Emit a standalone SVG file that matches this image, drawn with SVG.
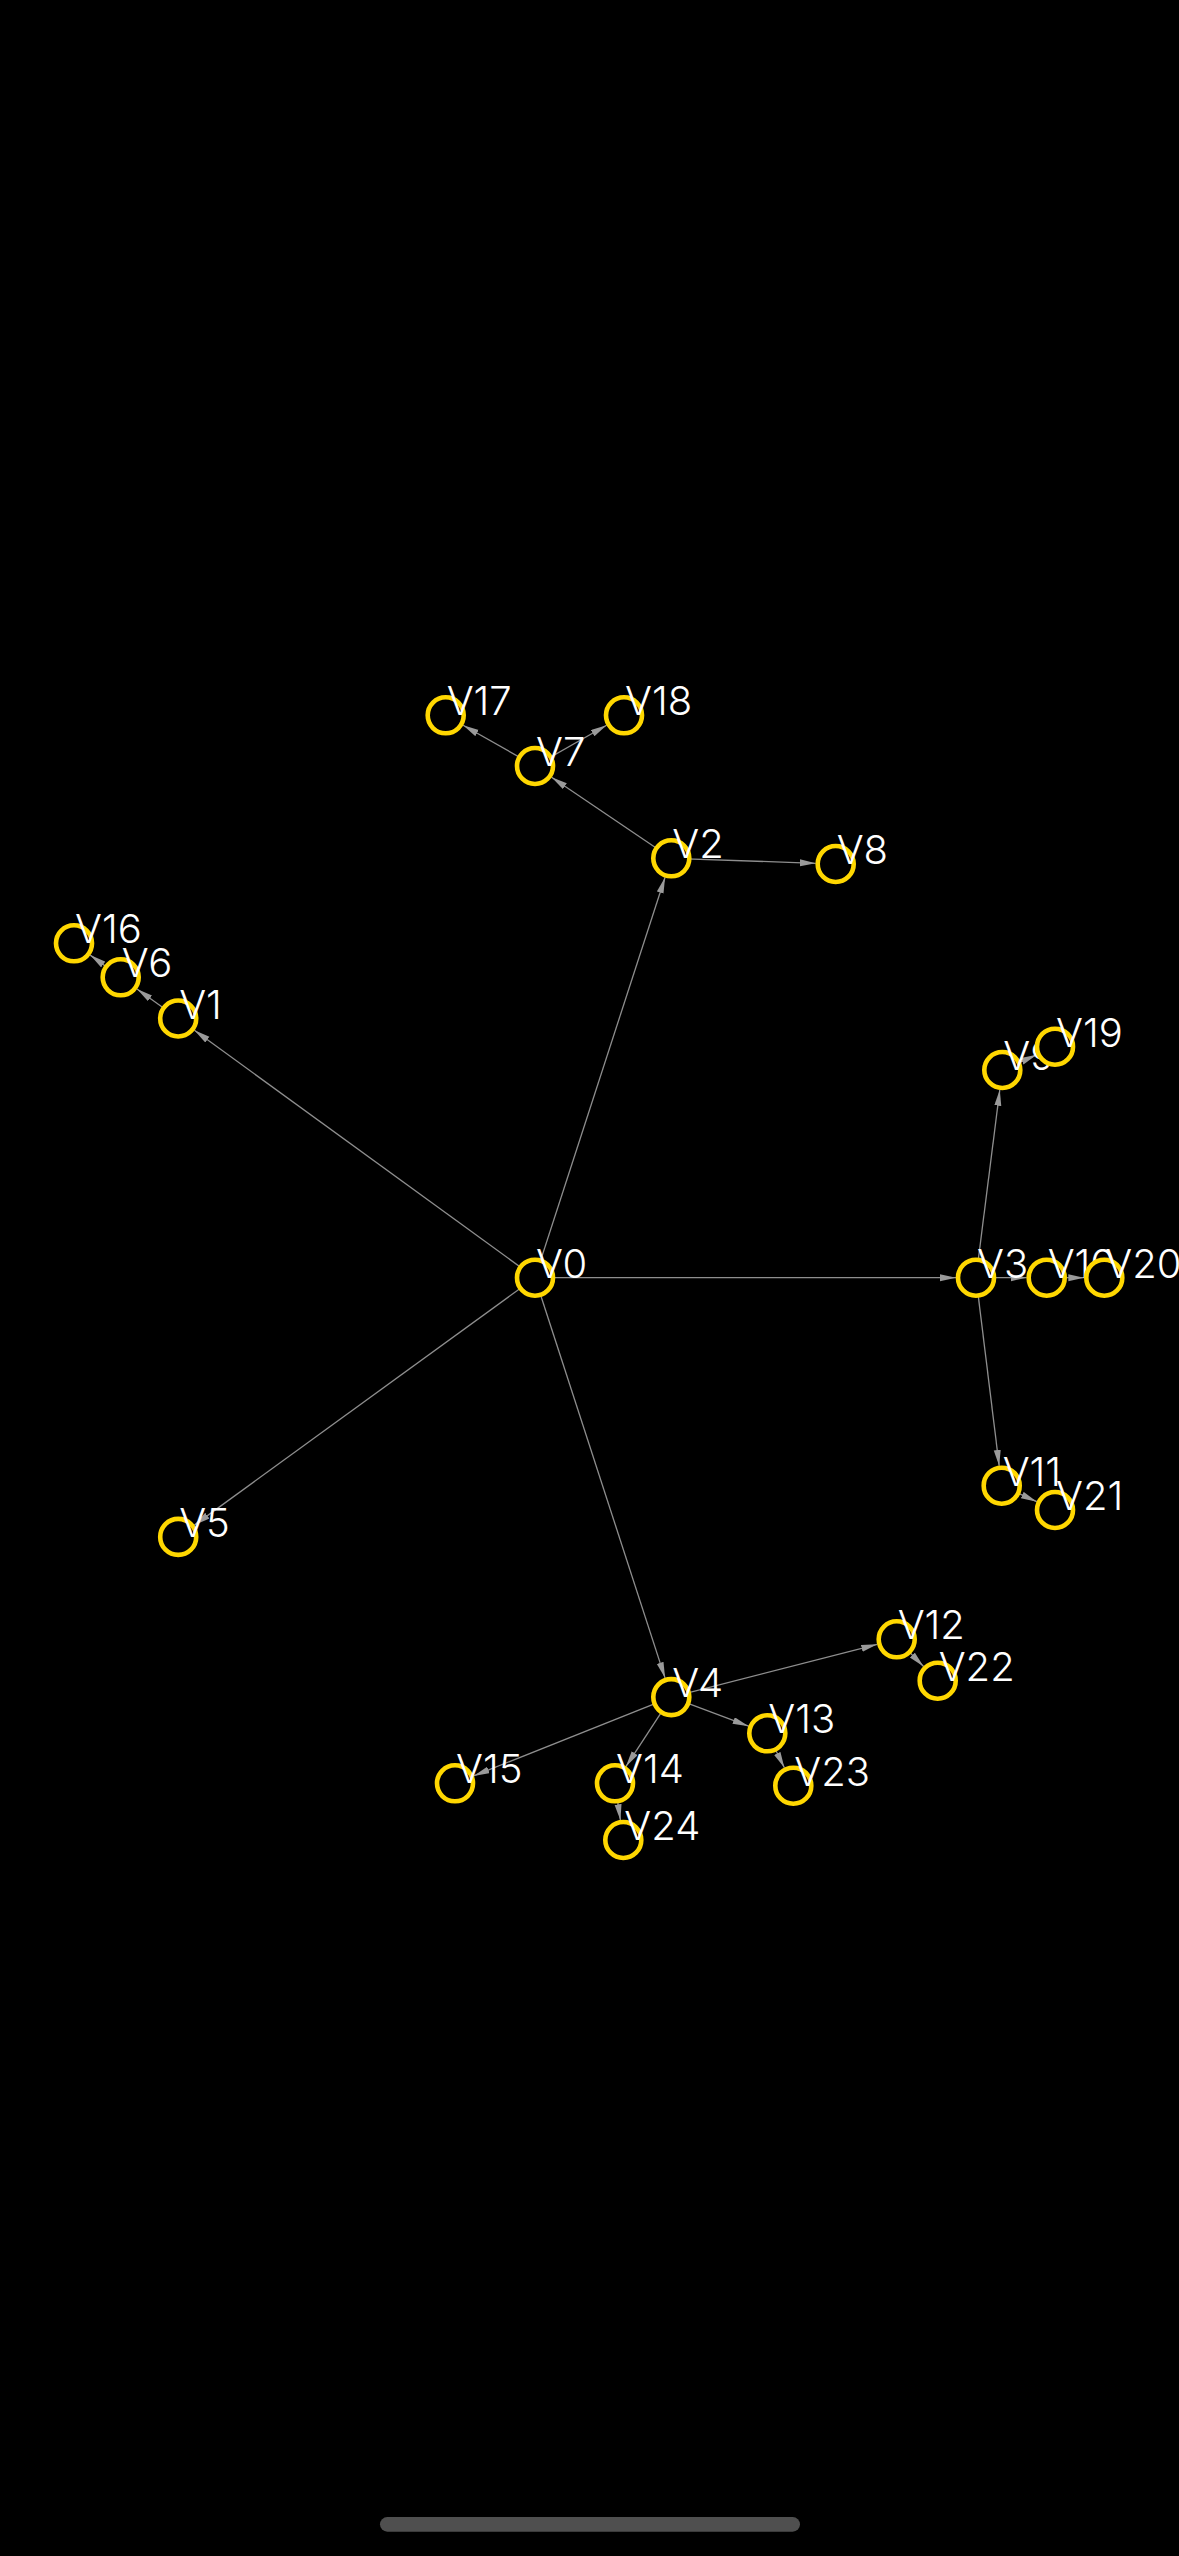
<svg xmlns="http://www.w3.org/2000/svg" width="1179" height="2556" viewBox="0 0 1179 2556">
<defs>
<marker id="arr" markerUnits="userSpaceOnUse" markerWidth="16" markerHeight="8" refX="16" refY="3.5" orient="auto">
<path d="M0,0 L16,3.5 L0,7 z" fill="#9a9a9a"/>
</marker>
<style>
.e{stroke:#8e8e8e;stroke-width:1.3;fill:none;marker-end:url(#arr)}
.n circle{fill:#000;stroke:#FFD700;stroke-width:4.6}
.n text{fill:#fff;font-family:Inter,"Noto Sans","Liberation Sans",sans-serif;font-size:40px;font-weight:300}
</style>
</defs>
<rect width="1179" height="2556" fill="#000"/>
<g id="connectors">
<line class="e" x1="535" y1="1277.7" x2="194.4" y2="1030.3"/>
<line class="e" x1="535" y1="1277.7" x2="665.1" y2="877.3"/>
<line class="e" x1="535" y1="1277.7" x2="956" y2="1277.7"/>
<line class="e" x1="535" y1="1277.7" x2="665.1" y2="1678.1"/>
<line class="e" x1="535" y1="1277.7" x2="194.4" y2="1525.1"/>
<line class="e" x1="178.2" y1="1018.5" x2="137" y2="989"/>
<line class="e" x1="120.7" y1="977.3" x2="90.2" y2="955.1"/>
<line class="e" x1="671.3" y1="858.3" x2="551.6" y2="777.2"/>
<line class="e" x1="671.3" y1="858.3" x2="815.7" y2="863.3"/>
<line class="e" x1="535" y1="766" x2="463.1" y2="725.2"/>
<line class="e" x1="535" y1="766" x2="606.6" y2="725.2"/>
<line class="e" x1="976" y1="1277.7" x2="999.8" y2="1089.8"/>
<line class="e" x1="976" y1="1277.7" x2="1026.7" y2="1277.7"/>
<line class="e" x1="976" y1="1277.7" x2="999.2" y2="1465.9"/>
<line class="e" x1="1002.3" y1="1070" x2="1036.7" y2="1054.8"/>
<line class="e" x1="1046.7" y1="1277.7" x2="1084.3" y2="1277.7"/>
<line class="e" x1="1001.7" y1="1485.7" x2="1036.8" y2="1501.7"/>
<line class="e" x1="671.3" y1="1697.1" x2="877.3" y2="1644.3"/>
<line class="e" x1="671.3" y1="1697.1" x2="748.6" y2="1726.2"/>
<line class="e" x1="671.3" y1="1697.1" x2="625.9" y2="1766.6"/>
<line class="e" x1="671.3" y1="1697.1" x2="473.6" y2="1775.9"/>
<line class="e" x1="896.7" y1="1639.3" x2="923.6" y2="1666.5"/>
<line class="e" x1="767.3" y1="1733.3" x2="784.4" y2="1767.8"/>
<line class="e" x1="615" y1="1783.3" x2="620.4" y2="1820.2"/>
</g>
<g id="V0" class="n"><circle cx="535" cy="1277.7" r="18"/><text x="536" y="1277.7">V0</text></g>
<g id="V1" class="n"><circle cx="178.2" cy="1018.5" r="18"/><text x="179.2" y="1018.5">V1</text></g>
<g id="V2" class="n"><circle cx="671.3" cy="858.3" r="18"/><text x="672.3" y="858.3">V2</text></g>
<g id="V3" class="n"><circle cx="976" cy="1277.7" r="18"/><text x="977" y="1277.7">V3</text></g>
<g id="V4" class="n"><circle cx="671.3" cy="1697.1" r="18"/><text x="672.3" y="1697.1">V4</text></g>
<g id="V5" class="n"><circle cx="178.2" cy="1536.9" r="18"/><text x="179.2" y="1536.9">V5</text></g>
<g id="V6" class="n"><circle cx="120.7" cy="977.3" r="18"/><text x="121.7" y="977.3">V6</text></g>
<g id="V7" class="n"><circle cx="535" cy="766" r="18"/><text x="536" y="766">V7</text></g>
<g id="V8" class="n"><circle cx="835.7" cy="864" r="18"/><text x="836.7" y="864">V8</text></g>
<g id="V9" class="n"><circle cx="1002.3" cy="1070" r="18"/><text x="1003.3" y="1070">V9</text></g>
<g id="V10" class="n"><circle cx="1046.7" cy="1277.7" r="18"/><text x="1047.7" y="1277.7">V10</text></g>
<g id="V11" class="n"><circle cx="1001.7" cy="1485.7" r="18"/><text x="1002.7" y="1485.7">V11</text></g>
<g id="V12" class="n"><circle cx="896.7" cy="1639.3" r="18"/><text x="897.7" y="1639.3">V12</text></g>
<g id="V13" class="n"><circle cx="767.3" cy="1733.3" r="18"/><text x="768.3" y="1733.3">V13</text></g>
<g id="V14" class="n"><circle cx="615" cy="1783.3" r="18"/><text x="616" y="1783.3">V14</text></g>
<g id="V15" class="n"><circle cx="455" cy="1783.3" r="18"/><text x="456" y="1783.3">V15</text></g>
<g id="V16" class="n"><circle cx="74" cy="943.3" r="18"/><text x="75" y="943.3">V16</text></g>
<g id="V17" class="n"><circle cx="445.7" cy="715.3" r="18"/><text x="446.7" y="715.3">V17</text></g>
<g id="V18" class="n"><circle cx="624" cy="715.3" r="18"/><text x="625" y="715.3">V18</text></g>
<g id="V19" class="n"><circle cx="1055" cy="1046.7" r="18"/><text x="1056" y="1046.7">V19</text></g>
<g id="V20" class="n"><circle cx="1104.3" cy="1277.7" r="18"/><text x="1105.3" y="1277.7">V20</text></g>
<g id="V21" class="n"><circle cx="1055" cy="1510" r="18"/><text x="1056" y="1510">V21</text></g>
<g id="V22" class="n"><circle cx="937.7" cy="1680.7" r="18"/><text x="938.7" y="1680.7">V22</text></g>
<g id="V23" class="n"><circle cx="793.3" cy="1785.7" r="18"/><text x="794.3" y="1785.7">V23</text></g>
<g id="V24" class="n"><circle cx="623.3" cy="1840" r="18"/><text x="624.3" y="1840">V24</text></g>
<rect x="380" y="2517" width="420" height="14.7" rx="7.35" fill="#4f4f4f"/>
</svg>
